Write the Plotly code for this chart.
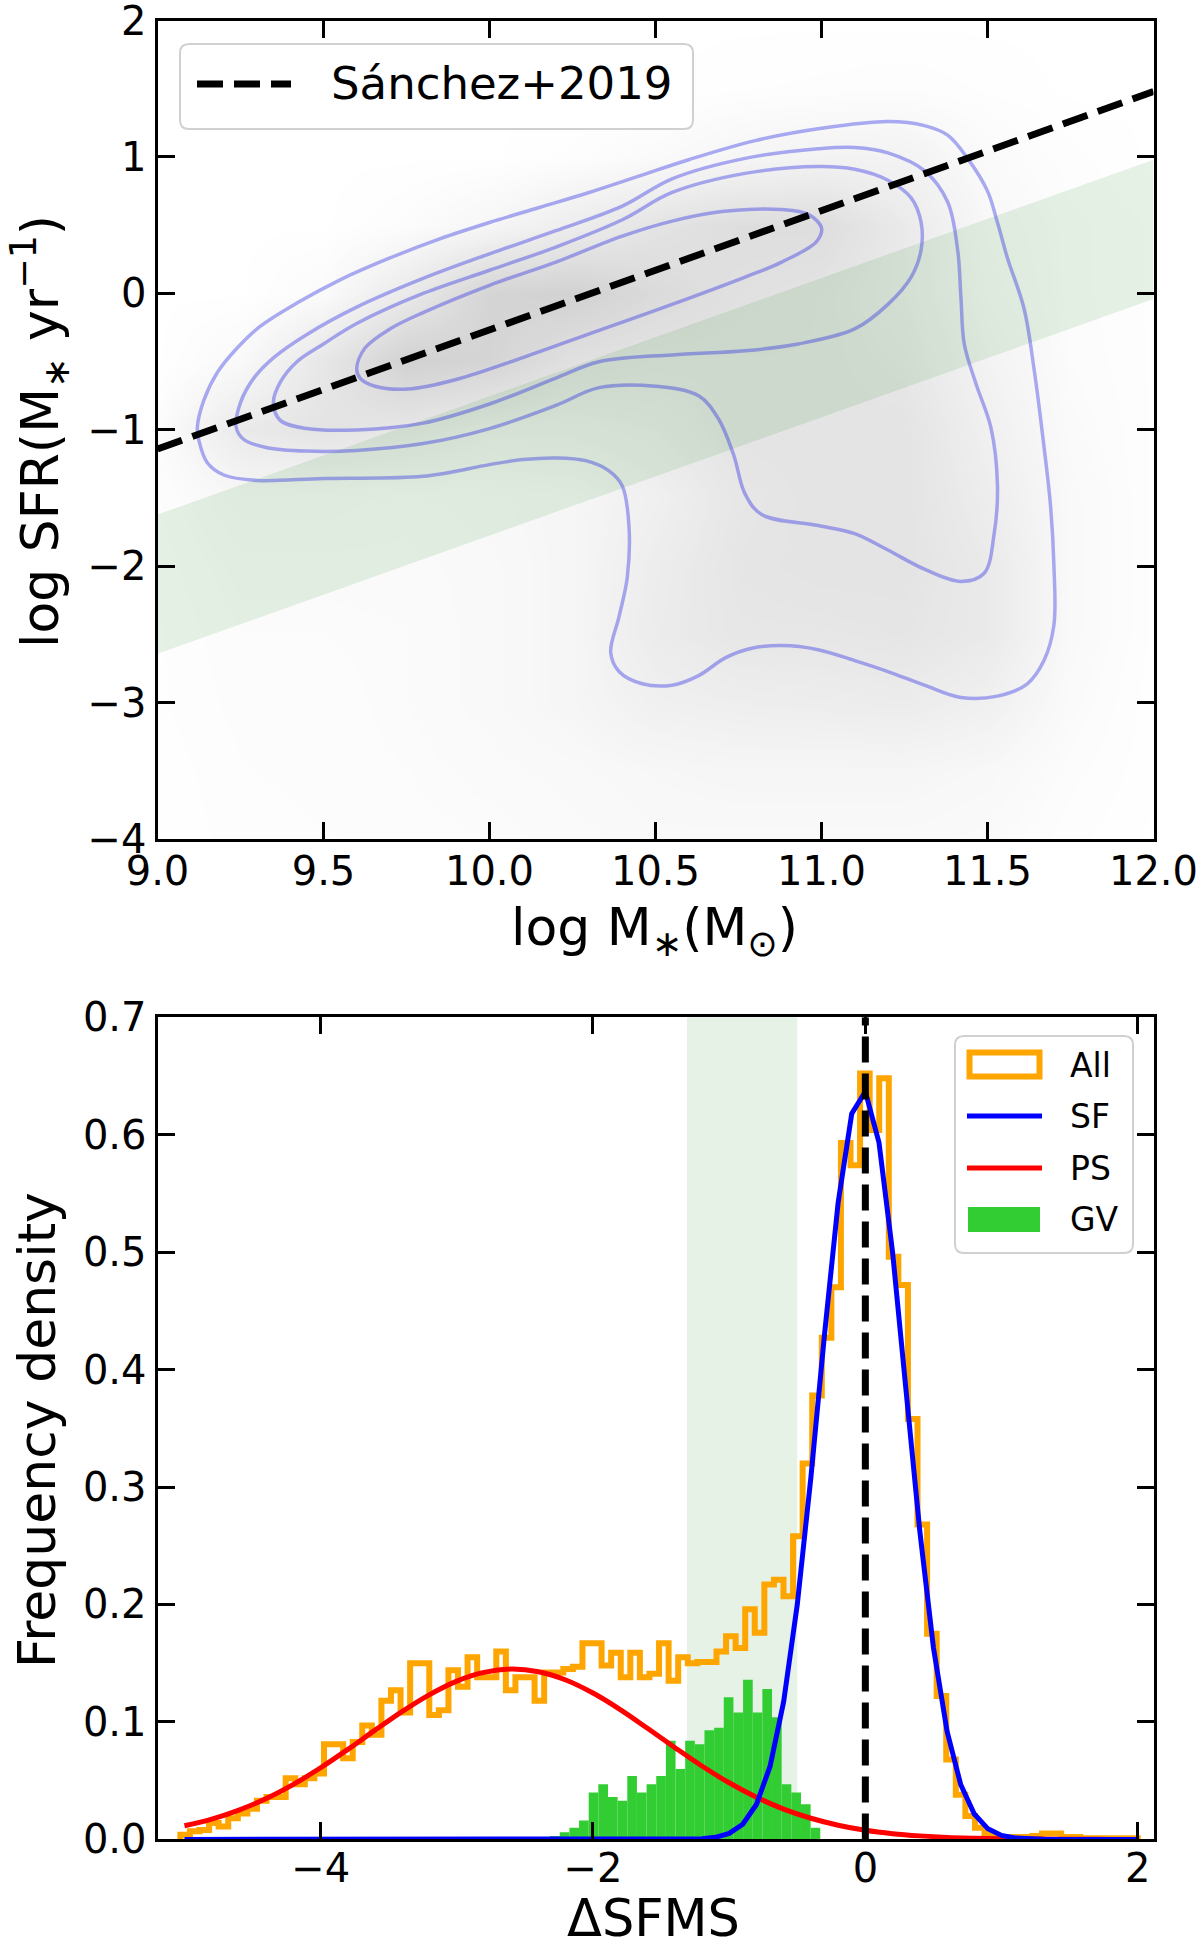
import numpy as np
import plotly.graph_objects as go

W, H = 1200, 1949

# ======================= TOP PANEL DATA =======================
mass_tick_vals = [9.0, 9.5, 10.0, 10.5, 11.0, 11.5, 12.0]
mass_tick_text = ["9.0", "9.5", "10.0", "10.5", "11.0", "11.5", "12.0"]
sfr_tick_vals = [-4, -3, -2, -1, 0, 1, 2]
sfr_tick_text = ["\u22124", "\u22123", "\u22122", "\u22121", "0", "1", "2"]

# density of the grey galaxy cloud, rows = sfr
dens_grid_mass = [9.0, 9.25, 9.5, 9.75, 10.0, 10.25, 10.5, 10.75, 11.0, 11.25, 11.5, 11.75, 12.0]
dens_grid_sfr = [-4.0, -3.5, -3.0, -2.5, -2.0, -1.5, -1.0, -0.5, 0.0, 0.5, 1.0, 1.5, 2.0]
dens_grid_level = [
    [0.01, 0.03, 0.04, 0.05, 0.06, 0.08, 0.10, 0.10, 0.10, 0.10, 0.08, 0.03, 0.00],
    [0.01, 0.04, 0.05, 0.06, 0.08, 0.10, 0.13, 0.15, 0.15, 0.15, 0.12, 0.05, 0.01],
    [0.02, 0.05, 0.05, 0.07, 0.10, 0.15, 0.25, 0.28, 0.30, 0.32, 0.25, 0.08, 0.01],
    [0.02, 0.06, 0.06, 0.07, 0.10, 0.15, 0.32, 0.40, 0.40, 0.42, 0.35, 0.10, 0.02],
    [0.03, 0.08, 0.08, 0.08, 0.10, 0.15, 0.30, 0.42, 0.45, 0.45, 0.35, 0.10, 0.02],
    [0.04, 0.12, 0.12, 0.10, 0.12, 0.15, 0.25, 0.40, 0.45, 0.45, 0.30, 0.10, 0.02],
    [0.05, 0.35, 0.45, 0.40, 0.30, 0.30, 0.35, 0.45, 0.45, 0.45, 0.25, 0.08, 0.02],
    [0.00, 0.10, 0.40, 0.75, 0.70, 0.50, 0.45, 0.45, 0.45, 0.40, 0.20, 0.06, 0.02],
    [0.00, 0.00, 0.08, 0.35, 0.70, 0.75, 0.60, 0.50, 0.45, 0.35, 0.15, 0.05, 0.02],
    [0.00, 0.00, 0.00, 0.05, 0.15, 0.30, 0.45, 0.55, 0.55, 0.35, 0.12, 0.05, 0.02],
    [0.00, 0.00, 0.00, 0.00, 0.00, 0.03, 0.08, 0.15, 0.20, 0.20, 0.08, 0.03, 0.00],
    [0.00, 0.00, 0.00, 0.00, 0.00, 0.00, 0.00, 0.02, 0.03, 0.04, 0.02, 0.00, 0.00],
    [0.00, 0.00, 0.00, 0.00, 0.00, 0.00, 0.00, 0.00, 0.00, 0.00, 0.00, 0.00, 0.00],
]

sanchez_mass = [9.0, 12.0]
sanchez_sfr = [-1.14, 1.48]

gv_band_mass = [9.0, 12.0]
gv_band_low = [-2.64, -0.04]
gv_band_high = [-1.62, 0.98]

kde1_mass = [9.12, 9.14, 9.18, 9.24, 9.31, 9.42, 9.55, 9.70, 9.85, 10.00, 10.15, 10.30, 10.45, 10.60,
             10.80, 11.00, 11.20, 11.31, 11.38, 11.44, 11.50, 11.53, 11.56, 11.61, 11.64, 11.67, 11.69,
             11.70, 11.70, 11.67, 11.62, 11.53, 11.42, 11.31, 11.20, 11.10, 10.99, 10.88, 10.79, 10.71,
             10.63, 10.55, 10.46, 10.39, 10.365, 10.39, 10.415, 10.42, 10.40, 10.36, 10.29, 10.20, 10.10,
             10.00, 9.80, 9.50, 9.30, 9.20, 9.15, 9.125]
kde1_sfr = [-0.98, -0.78, -0.58, -0.40, -0.24, -0.07, 0.10, 0.26, 0.40, 0.52, 0.63, 0.74, 0.86, 0.98,
            1.12, 1.21, 1.26, 1.23, 1.16, 0.99, 0.75, 0.52, 0.26, -0.11, -0.55, -1.12, -1.56,
            -1.99, -2.43, -2.69, -2.86, -2.95, -2.96, -2.87, -2.77, -2.69, -2.61, -2.58, -2.60, -2.67,
            -2.80, -2.87, -2.86, -2.77, -2.63, -2.37, -2.08, -1.70, -1.41, -1.30, -1.225, -1.205, -1.217,
            -1.254, -1.34, -1.355, -1.37, -1.33, -1.24, -1.08]

kde2_mass = [9.237, 9.25, 9.29, 9.35, 9.45, 9.60, 9.80, 10.00, 10.20, 10.40, 10.55, 10.77, 10.99, 11.10,
             11.20, 11.31, 11.38, 11.41, 11.42, 11.43, 11.465, 11.51, 11.53, 11.52, 11.49, 11.42, 11.31,
             11.20, 11.10, 10.99, 10.82, 10.77, 10.735, 10.69, 10.63, 10.50, 10.33, 10.20, 10.00, 9.80,
             9.60, 9.45, 9.33, 9.26]
kde2_sfr = [-0.98, -0.80, -0.62, -0.47, -0.30, -0.10, 0.11, 0.29, 0.46, 0.64, 0.84, 0.99, 1.06, 1.07,
            1.03, 0.90, 0.67, 0.32, -0.03, -0.37, -0.66, -0.98, -1.41, -1.76, -2.05, -2.11, -2.02,
            -1.88, -1.76, -1.70, -1.62, -1.47, -1.18, -0.92, -0.75, -0.68, -0.69, -0.82, -0.99, -1.10,
            -1.15, -1.155, -1.13, -1.07]

kde3_mass = [9.349, 9.37, 9.42, 9.50, 9.60, 9.80, 10.00, 10.20, 10.40, 10.55, 10.77, 10.99, 11.10, 11.20,
             11.27, 11.30, 11.30, 11.27, 11.20, 11.10, 10.93, 10.77, 10.55, 10.33, 10.20, 10.00, 9.80,
             9.60, 9.45, 9.37]
kde3_sfr = [-0.80, -0.65, -0.50, -0.37, -0.22, 0.00, 0.17, 0.34, 0.54, 0.74, 0.88, 0.93, 0.91, 0.83,
            0.70, 0.52, 0.32, 0.12, -0.08, -0.26, -0.37, -0.42, -0.45, -0.50, -0.62, -0.81, -0.95,
            -1.00, -0.99, -0.93]

kde4_mass = [9.60, 9.625, 9.70, 9.80, 10.00, 10.20, 10.40, 10.55, 10.70, 10.88, 10.96, 11.00, 10.985,
             10.88, 10.77, 10.55, 10.33, 10.10, 9.90, 9.755, 9.655, 9.61]
kde4_sfr = [-0.55, -0.40, -0.26, -0.14, 0.06, 0.23, 0.42, 0.53, 0.60, 0.615, 0.58, 0.48, 0.38,
            0.23, 0.12, -0.08, -0.27, -0.47, -0.63, -0.70, -0.68, -0.62]

# ======================= BOTTOM PANEL DATA =======================
dsfms_tick_vals = [-4, -2, 0, 2]
dsfms_tick_text = ["\u22124", "\u22122", "0", "2"]
freq_tick_vals = [0.0, 0.1, 0.2, 0.3, 0.4, 0.5, 0.6, 0.7]
freq_tick_text = ["0.0", "0.1", "0.2", "0.3", "0.4", "0.5", "0.6", "0.7"]

all_bin_range = [-5.03, 2.0]
all_heights = [
    0.004, 0.007, 0.008, 0.014, 0.011, 0.018, 0.022, 0.026, 0.033, 0.036,
    0.036, 0.052, 0.047, 0.052, 0.056, 0.081, 0.081, 0.069, 0.083, 0.097,
    0.089, 0.118, 0.127, 0.108, 0.150, 0.150, 0.106, 0.110, 0.144, 0.130,
    0.155, 0.138, 0.138, 0.160, 0.127, 0.138, 0.138, 0.118, 0.142, 0.142,
    0.145, 0.147, 0.167, 0.167, 0.148, 0.159, 0.138, 0.159, 0.138, 0.141,
    0.167, 0.135, 0.155, 0.150, 0.151, 0.151, 0.160, 0.173, 0.163, 0.196,
    0.176, 0.217, 0.221, 0.207, 0.258, 0.320, 0.378, 0.427, 0.470, 0.593,
    0.574, 0.652, 0.604, 0.648, 0.496, 0.472, 0.358, 0.268, 0.175, 0.122,
    0.068, 0.038, 0.020, 0.010, 0.005, 0.002, 0.002, 0.002, 0.002, 0.003,
    0.005, 0.005, 0.002, 0.002, 0.001, 0.001, 0.001, 0.001, 0.001, 0.001,
]

gv_bin_range = [-2.315, -0.331]
gv_heights = [0.003, 0.006, 0.010, 0.016, 0.040, 0.047, 0.036, 0.033, 0.054, 0.040,
              0.047, 0.054, 0.084, 0.060, 0.084, 0.081, 0.093, 0.095, 0.121, 0.108,
              0.136, 0.108, 0.128, 0.104, 0.047, 0.040, 0.030, 0.010]

ps_x = [-5.0, -4.8, -4.6, -4.4, -4.2, -4.0, -3.8, -3.6, -3.4, -3.2, -3.0, -2.8, -2.6, -2.4, -2.2,
        -2.0, -1.8, -1.6, -1.4, -1.2, -1.0, -0.8, -0.6, -0.4, -0.2, 0.0, 0.2, 0.4, 0.6, 0.8, 1.0,
        1.2, 1.4, 1.6, 1.8, 2.0]
ps_y = [0.0116, 0.0173, 0.0250, 0.0348, 0.0469, 0.0610, 0.0766, 0.0930, 0.1090, 0.1233, 0.1348,
        0.1422, 0.1450, 0.1427, 0.1357, 0.1246, 0.1105, 0.0946, 0.0783, 0.0625, 0.0482, 0.0359,
        0.0258, 0.0180, 0.0121, 0.0078, 0.0049, 0.0030, 0.0017, 0.0010, 0.0005, 0.0003, 0.0001,
        0.0001, 0.0000, 0.0000]

sf_x = [-5.0, -2.0, -1.5, -1.3, -1.2, -1.1, -1.0, -0.9, -0.8, -0.7, -0.6, -0.5, -0.4, -0.3, -0.2,
        -0.1, 0.0, 0.1, 0.2, 0.3, 0.4, 0.5, 0.6, 0.7, 0.8, 0.9, 1.0, 1.1, 1.2, 1.3, 1.5, 2.0]
sf_y = [0.0, 0.0, 0.00002, 0.0002, 0.0006, 0.0018, 0.0051, 0.0129, 0.0297, 0.0621, 0.1171, 0.1998,
        0.3082, 0.4298, 0.5419, 0.6178, 0.6367, 0.5934, 0.4999, 0.3808, 0.2623, 0.1633, 0.0920,
        0.0468, 0.0216, 0.0090, 0.0034, 0.0012, 0.0004, 0.0001, 0.0, 0.0]

gv_region = [-1.31, -0.50]
sfms_zero = 0.0

# ======================= LAYOUT HELPERS =======================
FONT = "DejaVu Sans"


def px(x):
    return x / W


def py(y):
    return 1 - y / H


X_DOM = [px(157.5), px(1153.5)]
TOP_DOM = [py(839.4), py(20.5)]
BOT_DOM = [py(1839.4), py(1017.2)]

fig = go.Figure()

# ---------------- top panel traces ----------------
fig.add_trace(go.Heatmap(
    x=dens_grid_mass, y=dens_grid_sfr, z=dens_grid_level, zmin=0, zmax=1, zsmooth="best",
    colorscale=[[0, "rgba(110,110,110,0)"], [1, "rgba(110,110,110,0.42)"]],
    showscale=False, hoverinfo="skip", xaxis="x", yaxis="y"))

fig.add_trace(go.Scatter(
    x=gv_band_mass + gv_band_mass[::-1], y=gv_band_high + gv_band_low[::-1],
    fill="toself", fillcolor="rgba(0,128,0,0.10)", line=dict(width=0),
    mode="lines", hoverinfo="skip", showlegend=False, xaxis="x", yaxis="y"))

for cx, cy in [(kde1_mass, kde1_sfr), (kde2_mass, kde2_sfr), (kde3_mass, kde3_sfr), (kde4_mass, kde4_sfr)]:
    fig.add_trace(go.Scatter(
        x=cx + cx[:1], y=cy + cy[:1], mode="lines",
        line=dict(color="rgba(40,40,230,0.38)", width=3.5, shape="spline", smoothing=1.0),
        hoverinfo="skip", showlegend=False, xaxis="x", yaxis="y"))

fig.add_trace(go.Scatter(
    x=sanchez_mass, y=sanchez_sfr, mode="lines",
    line=dict(color="black", width=7, dash="26px,11px"),
    showlegend=False, xaxis="x", yaxis="y"))

# ---------------- bottom panel traces ----------------
all_edges = np.linspace(all_bin_range[0], all_bin_range[1], len(all_heights) + 1)
gv_edges = np.linspace(gv_bin_range[0], gv_bin_range[1], len(gv_heights) + 1)
gv_centers = 0.5 * (gv_edges[:-1] + gv_edges[1:])

fig.add_trace(go.Bar(
    x=gv_centers, y=gv_heights, width=gv_edges[1] - gv_edges[0],
    marker=dict(color="#32CD32", line=dict(width=0)),
    showlegend=False, xaxis="x2", yaxis="y2"))

step_x = [all_edges[0]] + list(all_edges[:-1]) + [all_edges[-1]]
step_y = [0] + list(all_heights) + [0]
fig.add_trace(go.Scatter(
    x=step_x, y=step_y, mode="lines", line=dict(color="#FFA500", width=6, shape="hv"),
    showlegend=False, xaxis="x2", yaxis="y2"))

fig.add_trace(go.Scatter(
    x=ps_x, y=ps_y, mode="lines", line=dict(color="red", width=5, shape="spline"),
    showlegend=False, xaxis="x2", yaxis="y2"))

fig.add_trace(go.Scatter(
    x=sf_x, y=sf_y, mode="lines", line=dict(color="blue", width=5),
    showlegend=False, xaxis="x2", yaxis="y2"))

fig.add_trace(go.Scatter(
    x=[sfms_zero, sfms_zero], y=[0, 0.7], mode="lines",
    line=dict(color="black", width=7, dash="26px,11px"),
    showlegend=False, xaxis="x2", yaxis="y2"))

# ---------------- axes ----------------
axis_common = dict(
    showline=True, linewidth=3, linecolor="black", mirror="allticks",
    ticks="inside", ticklen=17, tickwidth=3, tickcolor="black",
    showgrid=False, zeroline=False, automargin=False,
    tickfont=dict(family=FONT, size=40, color="black"),
    tickmode="array", ticklabeloverflow="allow",
)

fig.update_layout(
    template="none",
    width=W, height=H, autosize=False,
    margin=dict(l=0, r=0, t=0, b=0, pad=0),
    paper_bgcolor="white", plot_bgcolor="white",
    showlegend=False, barmode="overlay",
    xaxis=dict(domain=X_DOM, range=[9.0, 12.0], anchor="y", ticklabelstandoff=-5,
               tickvals=mass_tick_vals, ticktext=mass_tick_text, **axis_common),
    yaxis=dict(domain=TOP_DOM, range=[-4, 2], anchor="x",
               tickvals=sfr_tick_vals, ticktext=sfr_tick_text, **axis_common),
    xaxis2=dict(domain=X_DOM, range=[-5.198, 2.116], anchor="y2", ticklabelstandoff=-8,
                tickvals=dsfms_tick_vals, ticktext=dsfms_tick_text, **axis_common),
    yaxis2=dict(domain=BOT_DOM, range=[0, 0.7], anchor="x2",
                tickvals=freq_tick_vals, ticktext=freq_tick_text, **axis_common),
)

# green valley vertical band (bottom)
fig.add_shape(type="rect", xref="x2", yref="y2 domain", x0=gv_region[0], x1=gv_region[1],
              y0=0, y1=1, fillcolor="rgba(0,128,0,0.10)", line=dict(width=0), layer="below")


# ---------------- legends (drawn) ----------------
def rounded_rect(x0, y0, x1, y1, r):
    return (f"M {px(x0 + r)},{py(y0)} L {px(x1 - r)},{py(y0)} "
            f"Q {px(x1)},{py(y0)} {px(x1)},{py(y0 + r)} L {px(x1)},{py(y1 - r)} "
            f"Q {px(x1)},{py(y1)} {px(x1 - r)},{py(y1)} L {px(x0 + r)},{py(y1)} "
            f"Q {px(x0)},{py(y1)} {px(x0)},{py(y1 - r)} L {px(x0)},{py(y0 + r)} "
            f"Q {px(x0)},{py(y0)} {px(x0 + r)},{py(y0)} Z")


fig.add_shape(type="path", xref="paper", yref="paper", path=rounded_rect(180, 44, 693, 129, 9),
              fillcolor="rgba(255,255,255,0.8)", line=dict(color="#d0d0d0", width=2))
fig.add_shape(type="line", xref="paper", yref="paper", x0=px(197), x1=px(291), y0=py(84), y1=py(84),
              line=dict(color="black", width=7, dash="26px,11px"))
fig.add_annotation(x=px(329), y=py(84), xref="paper", yref="paper", text="Sánchez+2019",
                   showarrow=False, xanchor="left", yanchor="middle",
                   font=dict(family=FONT, size=45, color="black"))

fig.add_shape(type="path", xref="paper", yref="paper", path=rounded_rect(955, 1036, 1133, 1253, 9),
              fillcolor="rgba(255,255,255,0.8)", line=dict(color="#d0d0d0", width=2))
fig.add_shape(type="rect", xref="paper", yref="paper", x0=px(969.5), x1=px(1039.5),
              y0=py(1076.5), y1=py(1052.5), line=dict(color="#FFA500", width=6), fillcolor="rgba(0,0,0,0)")
fig.add_shape(type="line", xref="paper", yref="paper", x0=px(967), x1=px(1042), y0=py(1116), y1=py(1116),
              line=dict(color="blue", width=5))
fig.add_shape(type="line", xref="paper", yref="paper", x0=px(967), x1=px(1042), y0=py(1168), y1=py(1168),
              line=dict(color="red", width=5))
fig.add_shape(type="rect", xref="paper", yref="paper", x0=px(968), x1=px(1040),
              y0=py(1232), y1=py(1207), line=dict(width=0), fillcolor="#32CD32")
for label, yc in [("All", 1065), ("SF", 1116), ("PS", 1168), ("GV", 1219)]:
    fig.add_annotation(x=px(1068), y=py(yc), xref="paper", yref="paper", text=label,
                       showarrow=False, xanchor="left", yanchor="middle",
                       font=dict(family=FONT, size=33, color="black"))

# ---------------- axis titles ----------------
title_font = dict(family=FONT, size=52, color="black")
fig.add_annotation(x=px(655), y=py(931), xref="paper", yref="paper",
                   text="log M<sub>\u2217</sub>(M<sub>\u2299</sub>)", showarrow=False,
                   xanchor="center", yanchor="middle", font=title_font)
fig.add_annotation(x=px(40), y=py(432), xref="paper", yref="paper",
                   text="log SFR(M<sub>\u2217</sub> yr<sup>\u22121</sup>)", showarrow=False,
                   textangle=-90, xanchor="center", yanchor="middle", font=title_font)
fig.add_annotation(x=px(37), y=py(1430), xref="paper", yref="paper",
                   text="Frequency density", showarrow=False,
                   textangle=-90, xanchor="center", yanchor="middle", font=title_font)
fig.add_annotation(x=px(653), y=py(1918), xref="paper", yref="paper",
                   text="\u0394SFMS", showarrow=False,
                   xanchor="center", yanchor="middle",
                   font=dict(family=FONT, size=51, color="black"))

fig.write_html("out.html")
